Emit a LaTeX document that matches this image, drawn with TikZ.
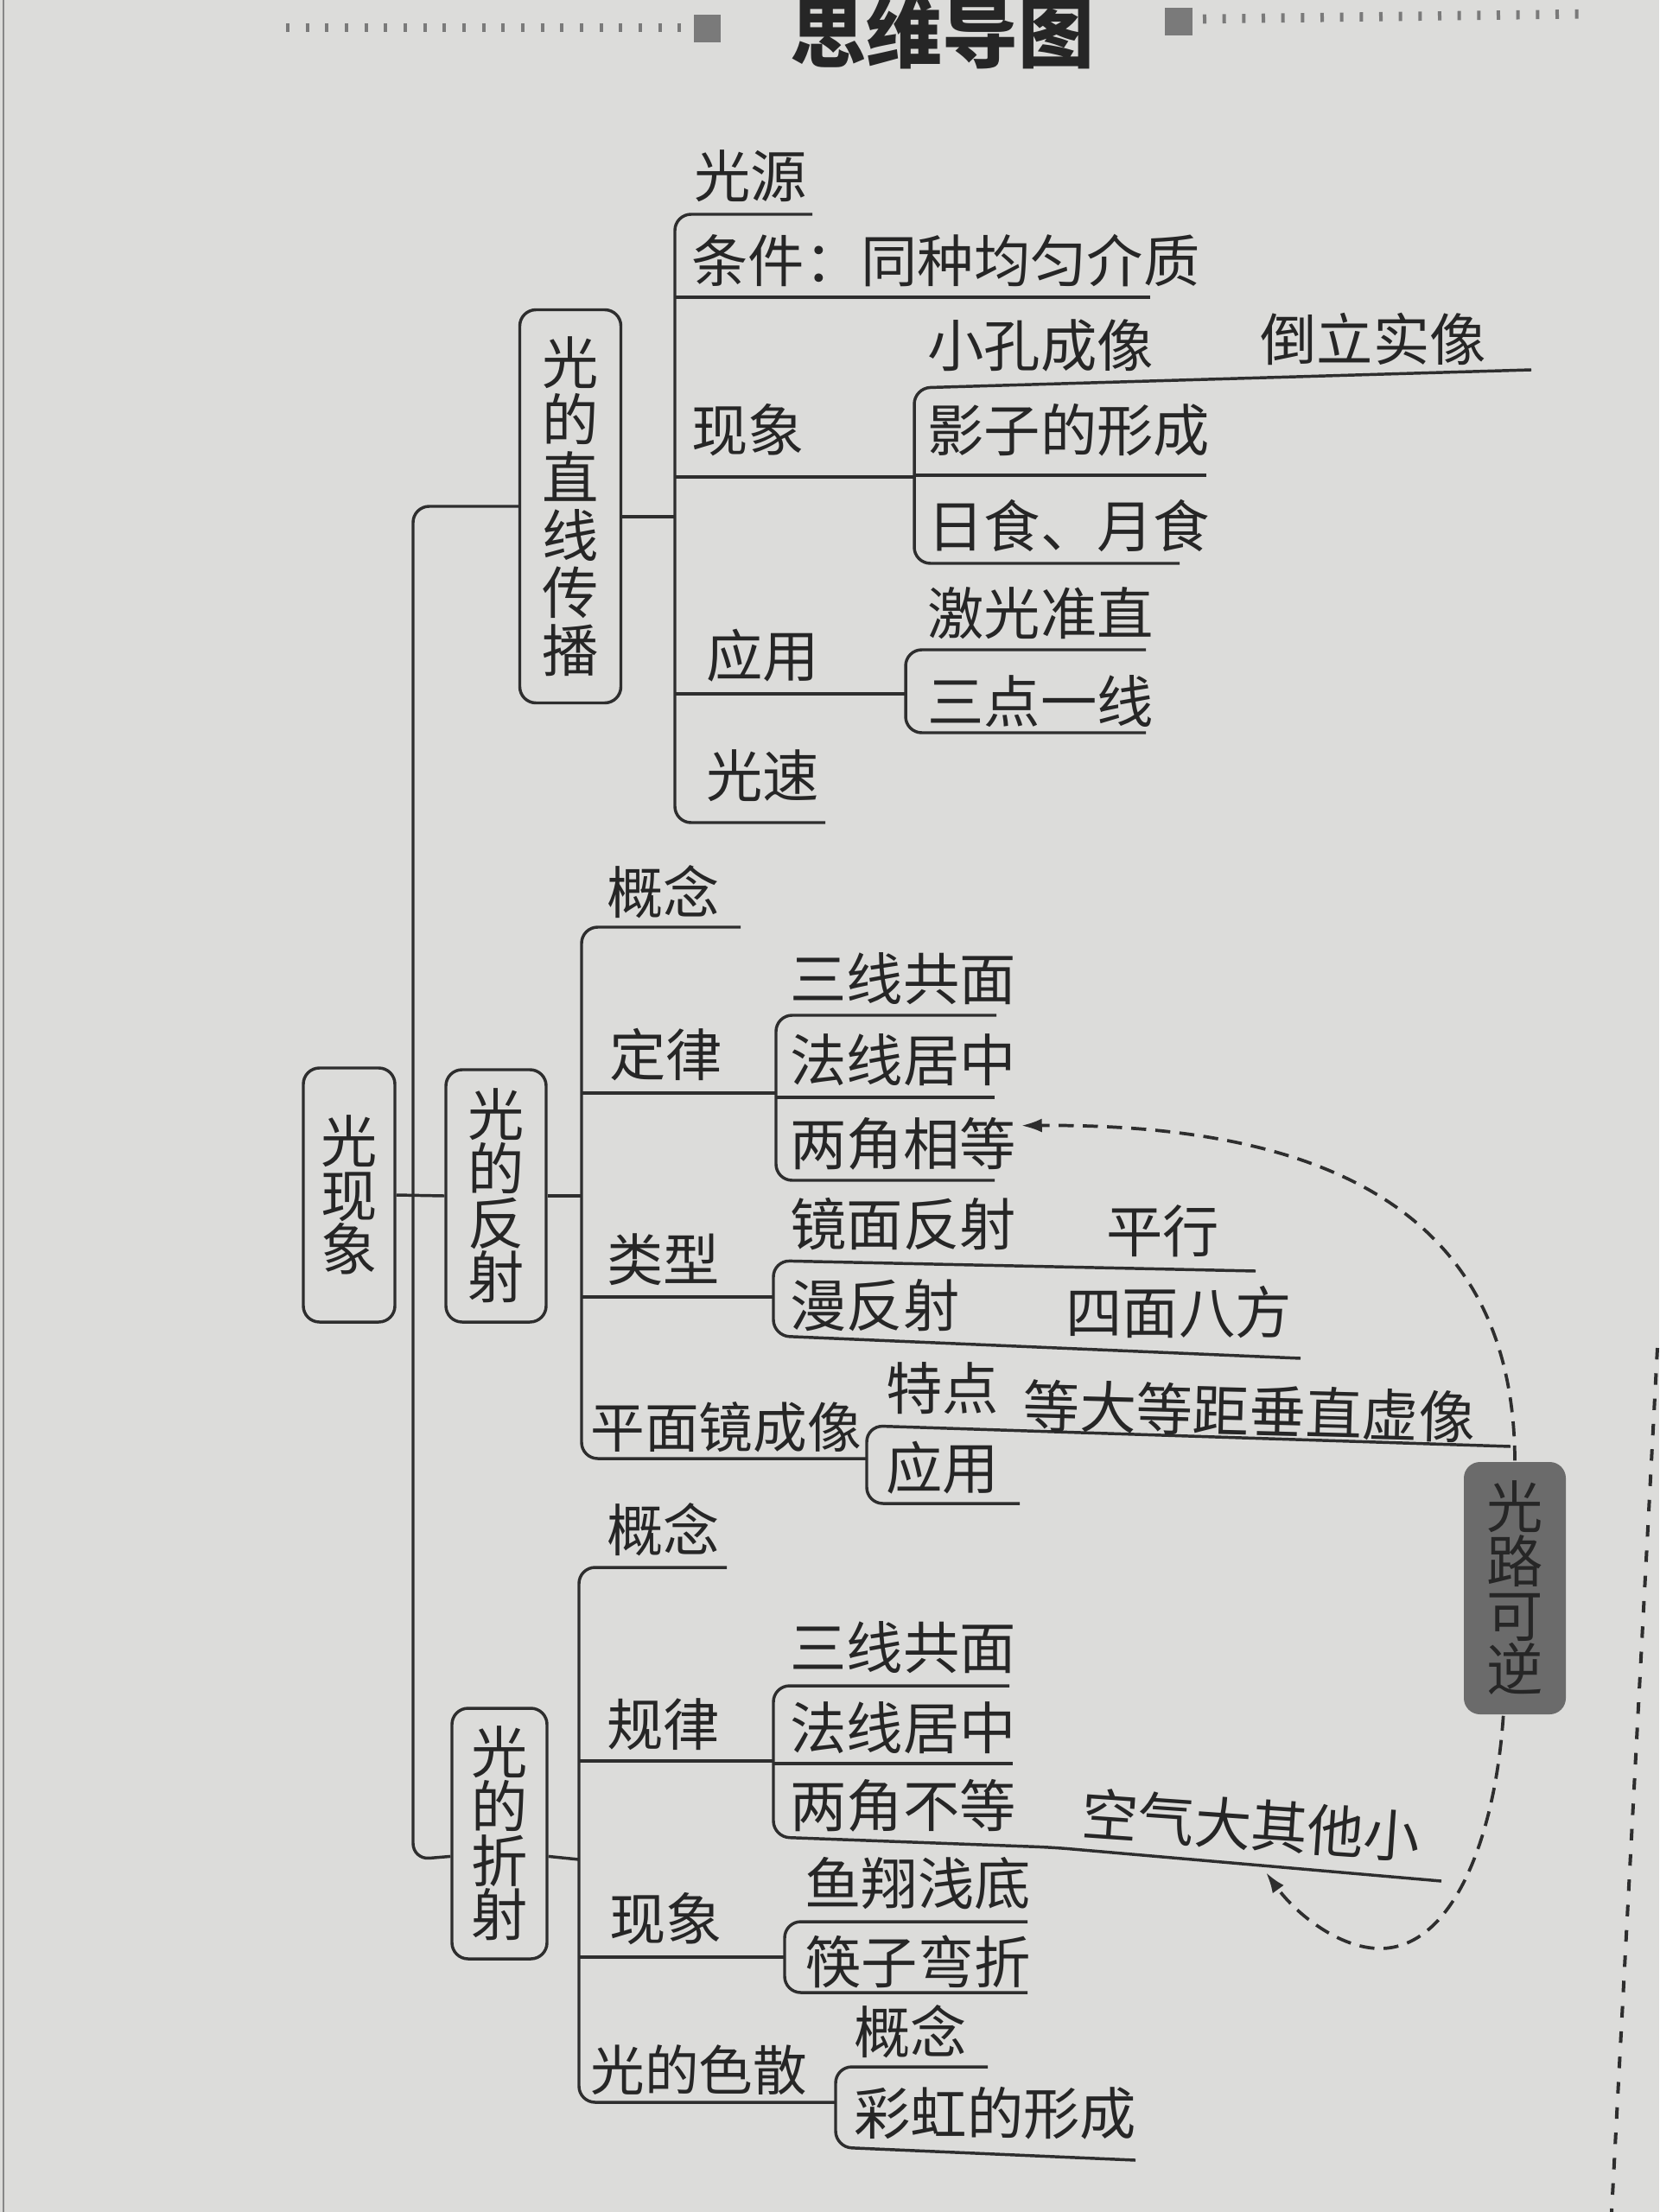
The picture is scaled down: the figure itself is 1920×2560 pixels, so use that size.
\documentclass[tikz,border=0pt]{standalone}
\usepackage{fontspec}
\setmainfont{Noto Sans CJK SC}
\usetikzlibrary{arrows.meta,calc}
\definecolor{paper}{HTML}{DCDCDA}
\definecolor{ink}{HTML}{262626}
\definecolor{linec}{HTML}{2E2E2E}
\definecolor{boxgray}{HTML}{6B6B6B}
\definecolor{tickc}{HTML}{7A7A7A}
\begin{document}
\begin{tikzpicture}[x=0.375pt,y=-0.375pt,
  lbl/.style={anchor=west,inner sep=0pt,text=ink,font=\fontsize{24.5pt}{30pt}\selectfont},
  vbox/.style={draw=linec,line width=1.3pt,rounded corners=7pt,inner sep=0pt,align=center,text=ink,font=\fontsize{24.5pt}{23.5pt}\selectfont},
  ln/.style={draw=linec,line width=1.3pt},
  br/.style={ln,rounded corners=7pt},
  dsh/.style={draw=linec,line width=1.4pt,dash pattern=on 6.5pt off 4pt,-{Latex[length=9pt,width=6pt]}},
  ticks/.style={draw=tickc,line width=4pt,dash pattern=on 1.5pt off 7pt}
]
\fill[paper] (0,0) rectangle (1920,2560);
\useasboundingbox (0,0) rectangle (1920,2560);

% page decorations
\draw[tickc!90,line width=0.6pt] (4,0) -- (4,2560);
\draw[linec,line width=1.5pt,dash pattern=on 5pt off 6pt] (1918,1560) -- (1865,2560);

% title
\node[inner sep=0pt,text=ink,font=\fontsize{33pt}{33pt}\selectfont\bfseries] (title) at (1090,38) {思维导图};
\draw[ticks] (331,32) -- (796,32);
\fill[tickc] (803,17) rectangle (834,49);
\fill[tickc] (1348,9) rectangle (1380,41);
\draw[ticks] (1392,22) -- (1845,16);

% boxes
\node[vbox,minimum width={106*0.375pt},minimum height={294*0.375pt}] (root) at (404,1383) {光\\现\\象};
\node[vbox,minimum width={117*0.375pt},minimum height={455*0.375pt},font=\fontsize{24.5pt}{25pt}\selectfont] (zx) at (660,586) {光\\的\\直\\线\\传\\播};
\node[vbox,minimum width={116*0.375pt},minimum height={292*0.375pt}] (fs) at (574,1384) {光\\的\\反\\射};
\node[vbox,minimum width={110*0.375pt},minimum height={290*0.375pt}] (zs) at (578,2122) {光\\的\\折\\射};
\node[vbox,fill=boxgray,draw=none,minimum width={118*0.375pt},minimum height={292*0.375pt}] (kn) at (1753,1838) {光\\路\\可\\逆};

\coordinate (zsin) at ($(zs.south west)!0.41!(zs.north west)$);
\coordinate (zsout) at ($(zs.south east)!0.41!(zs.north east)$);

% trunk
\draw[br] (zx.west) -- (478,586) -- (478,2152) -- (zsin);
\draw[ln] (root.east) -- (fs.west);

% ---------- branch 1: 光的直线传播
\draw[ln] ([yshift=-4.5pt]zx.east) -- (781,598);
\draw[br] (940,248) -- (781,248) -- (781,952) -- (955,952);
\draw[ln] (781,344) -- (1331,344);
\draw[ln] (781,552) -- (1058,552);
\draw[ln] (781,803) -- (1048,803);
\draw[br] (1772,428) -- (1058,449) -- (1058,652) -- (1365,652);
\draw[ln] (1058,550) -- (1396,550);
\draw[br] (1326,752) -- (1048,752) -- (1048,848) -- (1326,848);

\node[lbl] (a1) at (803,204) {光源};
\node[lbl] (a2) at (800,302) {条件：同种均匀介质};
\node[lbl] (a3) at (800,498) {现象};
\node[lbl] (a31) at (1073,400) {小孔成像};
\node[lbl] (a31b) at (1458,392) {倒立实像};
\node[lbl] (a32) at (1073,498) {影子的形成};
\node[lbl] (a33) at (1073,608) {日食、月食};
\node[lbl] (a4) at (817,759) {应用};
\node[lbl] (a41) at (1073,710) {激光准直};
\node[lbl] (a42) at (1073,812) {三点一线};
\node[lbl] (a5) at (817,898) {光速};

% ---------- branch 2: 光的反射
\draw[ln] (fs.east) -- (673,1384);
\draw[br] (857,1073) -- (673,1073) -- (673,1688) -- (1003,1688);
\draw[ln] (673,1265) -- (898,1265);
\draw[ln] (673,1501) -- (895,1501);
\draw[br] (1153,1175) -- (898,1175) -- (898,1366) -- (1151,1366);
\draw[ln] (898,1270) -- (1151,1270);
\draw[br] (1453,1471) -- (895,1459) -- (895,1546) -- (1505,1572);
\draw[br] (1748,1674) -- (1003,1650) -- (1003,1740) -- (1180,1740);

\node[lbl] (b1) at (702,1032) {概念};
\node[lbl] (b2) at (705,1221) {定律};
\node[lbl] (b21) at (914,1133) {三线共面};
\node[lbl] (b22) at (914,1227) {法线居中};
\node[lbl] (b23) at (914,1324) {两角相等};
\node[lbl] (b3) at (702,1458) {类型};
\node[lbl] (b31) at (914,1417) {镜面反射};
\node[lbl] (b31b) at (1280,1425) {平行};
\node[lbl] (b32) at (914,1511) {漫反射};
\node[lbl] (b32b) at (1233,1519) {四面八方};
\node[lbl,font=\fontsize{23.5pt}{30pt}\selectfont] (b4) at (683,1652) {平面镜成像};
\node[lbl] (b41) at (1025,1607) {特点};
\node[lbl,rotate=-1.5] (b41b) at (1184,1626) {等大等距垂直虚像};
\node[lbl] (b42) at (1025,1699) {应用};

% ---------- branch 3: 光的折射
\draw[ln] (zsout) -- (670,2152);
\draw[br] (841,1814) -- (670,1814) -- (670,2433) -- (967,2433);
\draw[ln] (670,2038) -- (895,2038);
\draw[ln] (670,2265) -- (908,2265);
\draw[br] (1168,1951) -- (895,1951) -- (895,2126) -- (1218,2138) -- (1668,2177);
\draw[ln] (895,2041) -- (1172,2041);
\draw[br] (1189,2224) -- (908,2224) -- (908,2306) -- (1189,2306);
\draw[br] (1143,2392) -- (967,2392) -- (967,2485) -- (1314,2500);

\node[lbl] (c1) at (702,1770) {概念};
\node[lbl] (c2) at (702,1996) {规律};
\node[lbl] (c21) at (914,1907) {三线共面};
\node[lbl] (c22) at (914,2000) {法线居中};
\node[lbl] (c23) at (914,2090) {两角不等};
\node[lbl,anchor=center,rotate=-4] (c23b) at (1448,2112) {空气大其他小};
\node[lbl] (c3) at (705,2221) {现象};
\node[lbl] (c31) at (931,2180) {鱼翔浅底};
\node[lbl] (c32) at (931,2270) {筷子弯折};
\node[lbl,font=\fontsize{23.5pt}{30pt}\selectfont] (c4) at (683,2396) {光的色散};
\node[lbl] (c41) at (988,2351) {概念};
\node[lbl] (c42) at (988,2446) {彩虹的形成};

% ---------- 光路可逆 arrows
\draw[dsh] (kn.north) .. controls (1752,1420) and (1560,1300) .. ([xshift=2pt,yshift=8pt]b23.east);
\draw[dsh] ([xshift=-5pt]kn.south) .. controls (1730,2130) and (1680,2255) .. (1597,2255) .. controls (1550,2255) and (1500,2215) .. (1465,2167);

\end{tikzpicture}
\end{document}
